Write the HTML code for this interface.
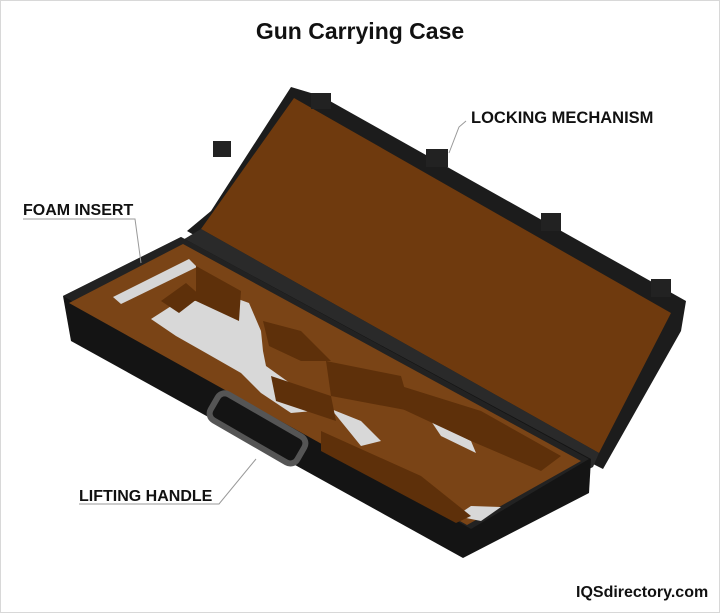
<!DOCTYPE html>
<html><head><style>
body{margin:0;background:#fff;}
.w{position:relative;width:718px;height:611px;border:1px solid #d8d8d8;overflow:hidden;font-family:"Liberation Sans",Arial,sans-serif;}
svg{position:absolute;left:0;top:0}
</style></head><body><div class="w">
<svg width="720" height="613" viewBox="0 0 720 613">
<text x="359" y="38" text-anchor="middle" font-size="23" font-weight="bold" fill="#111">Gun Carrying Case</text>
<!-- lid -->
<polygon points="186,230 210,210 290,86 320,95 685,300 680,330 602,468 590,462" fill="#1c1c1c"/>
<polygon points="200,228 293,97 670,312 598,452" fill="#6f3a0e"/>
<polygon points="180,240 200,228 598,452 592,466 470,528" fill="#2a2a2a"/>
<!-- latches -->
<g fill="#222"><rect x="212" y="140" width="18" height="16"/><rect x="310" y="92" width="20" height="16"/><rect x="425" y="148" width="22" height="18"/><rect x="540" y="212" width="20" height="18"/><rect x="650" y="278" width="20" height="18"/></g>
<!-- base -->
<polygon points="62,295 180,236 590,458 588,492 462,557 70,340" fill="#141414"/>
<polygon points="62,295 180,236 588,458 470,528" fill="#222"/>
<polygon points="68,302 182,243 580,460 466,524" fill="#7a4416"/>
<!-- cutouts -->
<polygon points="112,296 188,258 196,266 120,303" fill="#d6d6d6"/>
<polygon points="150,318 178,300 200,300 215,290 248,302 260,330 262,350 265,365 300,390 312,410 290,412 260,392 240,372 205,352 175,335" fill="#d8d8d8"/>
<polygon points="330,408 360,420 380,440 360,445" fill="#d8d8d8"/>
<polygon points="430,420 470,440 475,452 440,435" fill="#d8d8d8"/>
<polygon points="455,515 470,505 500,506 480,520" fill="#d8d8d8"/>
<g fill="#5e300a">
<polygon points="160,300 185,282 200,295 178,312"/>
<polygon points="195,265 240,290 238,320 195,300"/>
<polygon points="262,320 300,330 330,360 300,360 268,345"/>
<polygon points="325,360 400,375 410,410 330,395"/>
<polygon points="400,385 480,410 560,455 540,470 470,440 395,405"/>
<polygon points="270,375 330,395 335,420 275,400"/>
<polygon points="320,430 420,475 470,515 455,522 320,450"/>
</g>
<!-- handle -->
<g transform="rotate(30 255 430)"><rect x="205" y="412" width="100" height="30" rx="8" fill="none" stroke="#555" stroke-width="6"/></g>
<!-- leaders -->
<g stroke="#999" stroke-width="1" fill="none">
<polyline points="465,120 458,126 448,152"/>
<polyline points="22,218 134,218 140,262"/>
<polyline points="78,503 218,503 255,458"/>
</g>
<text x="470" y="122" font-size="16.5" font-weight="bold" fill="#111">LOCKING MECHANISM</text>
<text x="22" y="214" font-size="16" font-weight="bold" fill="#111">FOAM INSERT</text>
<text x="78" y="500" font-size="16" font-weight="bold" fill="#111">LIFTING HANDLE</text>
<text x="575" y="596" font-size="16" font-weight="bold" fill="#111">IQSdirectory.com</text>
</svg></div></body></html>
